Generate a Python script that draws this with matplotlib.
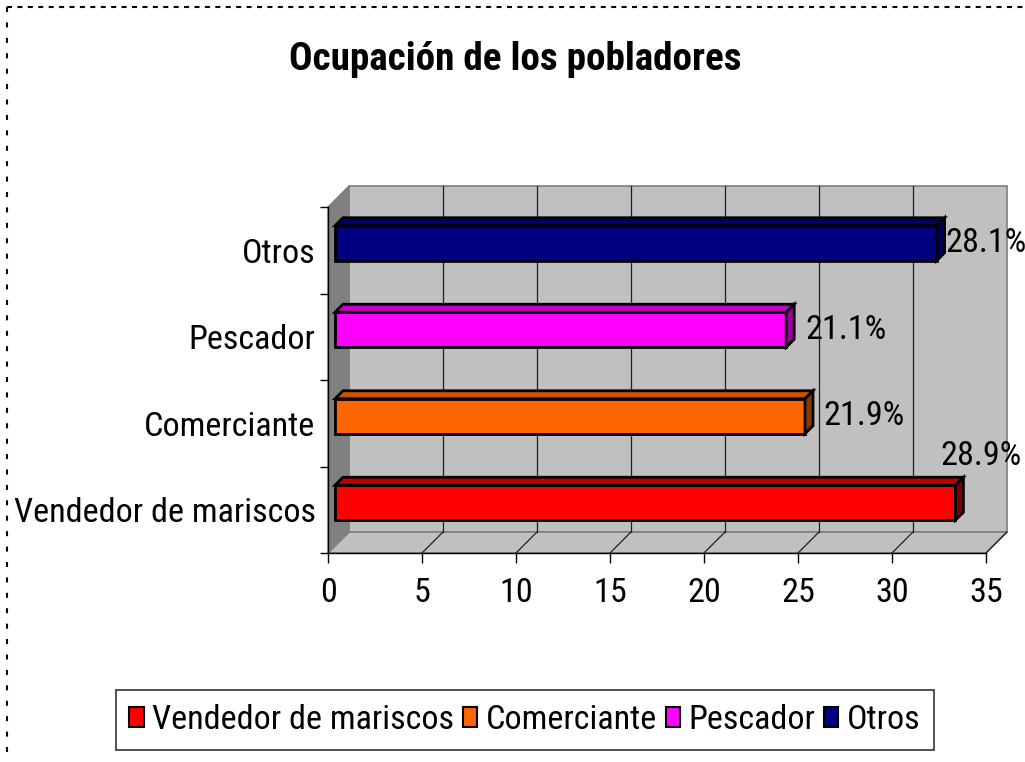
import matplotlib
matplotlib.use("Agg")
import matplotlib.pyplot as plt
from matplotlib.patches import Polygon
from matplotlib.lines import Line2D
from matplotlib import font_manager as fm

# ---- data ----
categories = ["Vendedor de mariscos", "Comerciante", "Pescador", "Otros"]
counts = [33, 25, 24, 32]
percent_labels = ["28.9%", "21.9%", "21.1%", "28.1%"]
front_colors = ["#ff0000", "#ff6600", "#ff00ff", "#000080"]
top_colors = ["#c00000", "#cc5200", "#cc00cc", "#000066"]
side_colors = ["#800000", "#8a3a00", "#990099", "#00004d"]
xticks = [0, 5, 10, 15, 20, 25, 30, 35]
title = "Ocupación de los pobladores"

# ---- pick the narrowest suitable installed font ----
def pick_font():
    prefs = ["liberation sans narrow", "arial narrow", "roboto condensed",
             "open sans condensed", "dejavu sans condensed", "noto sans condensed"]
    found = []
    for f in fm.fontManager.ttflist:
        n = f.name.lower()
        fn = f.fname.lower()
        st = str(f.stretch).lower()
        if "mono" in n or "serif" in n and "sans" not in n:
            continue
        is_narrow = ("narrow" in n or "condensed" in n or "narrow" in fn or
                     "condensed" in fn or st in ("condensed", "semi-condensed",
                                                 "extra-condensed", "ultra-condensed")
                     or st.isdigit() and int(st) < 500)
        if is_narrow:
            found.append(f)
    best = None
    best_rank = 99
    for f in found:
        key = (f.name + " " + f.fname).lower()
        rank = 50
        for i, p in enumerate(prefs):
            if p in key or p.replace(" ", "") in key.replace(" ", "").replace("-", "").replace("_", ""):
                rank = i
                break
        if "sans" in key and rank == 50:
            rank = 40
        if rank < best_rank:
            best_rank, best = rank, f
    if best is not None:
        return best.name, best.stretch
    return "Liberation Sans", "normal"

FAM, STRETCH = pick_font()
plt.rcParams["font.family"] = [FAM, "DejaVu Sans"]

def fp(size, bold=False):
    return fm.FontProperties(family=[FAM, "DejaVu Sans"], stretch=STRETCH,
                             weight="bold" if bold else "normal", size=size)

W, H = 1025, 762
fig = plt.figure(figsize=(W / 100, H / 100), dpi=100)
fig.patch.set_facecolor("white")
renderer = fig.canvas.get_renderer()

def fit_size(text, target_px, bold=False, base=20.0, max_size=27.0):
    t = fig.text(0, 0, text, fontproperties=fp(base, bold))
    w = t.get_window_extent(renderer).width
    t.remove()
    return min(max_size, base * target_px / w)

FS = fit_size("Vendedor de mariscos", 302)
FS_T = fit_size(title, 452, bold=True, max_size=28.5)

# front plane of the axes in pixels
L, R, T, B = 328, 986, 207, 553
ax = fig.add_axes([L / W, 1 - B / H, (R - L) / W, (B - T) / H])
ax.set_xlim(0, 35)
ax.set_ylim(-0.5, 3.5)
ax.patch.set_alpha(0)

pxx = 35 / (R - L)          # data units per pixel (x)
pxy = 4 / (B - T)           # data units per pixel (y)

def off(x, y, d):
    """shift a point into depth d pixels (right and up)"""
    return (x + d * pxx, y + d * pxy)

WALL = 21
bw = [off(0, -0.5, WALL), off(35, -0.5, WALL), off(35, 3.5, WALL), off(0, 3.5, WALL)]
ax.add_patch(Polygon(bw, closed=True, facecolor="#c0c0c0", edgecolor="#808080", lw=1.2, zorder=0, clip_on=False))
fl = [(0, -0.5), (35, -0.5), off(35, -0.5, WALL), off(0, -0.5, WALL)]
ax.add_patch(Polygon(fl, closed=True, facecolor="#c0c0c0", edgecolor="#808080", lw=1.2, zorder=0, clip_on=False))
lw_ = [(0, -0.5), (0, 3.5), off(0, 3.5, WALL), off(0, -0.5, WALL)]
ax.add_patch(Polygon(lw_, closed=True, facecolor="#808080", edgecolor="#808080", lw=1.0, zorder=0, clip_on=False))

for xv in xticks[1:-1]:
    p0 = off(xv, -0.5, WALL)
    p1 = off(xv, 3.5, WALL)
    ax.add_line(Line2D([p0[0], p1[0]], [p0[1], p1[1]], color="#202020", lw=0.9, zorder=0.5, clip_on=False))
for xv in xticks[1:]:
    p1 = off(xv, -0.5, WALL)
    ax.add_line(Line2D([xv, p1[0]], [-0.5, p1[1]], color="#202020", lw=0.9, zorder=0.5, clip_on=False))

# bars
BAR_SHIFT = 7
DEPTH = 8
label_gap = [0, 10, 11, 1]
bar_h = 35 * pxy
y_pos = list(range(len(categories)))
lefts = [BAR_SHIFT * pxx] * len(categories)
ycent = [y + BAR_SHIFT * pxy for y in y_pos]
bars = ax.barh(ycent, counts, left=lefts, height=bar_h, color=front_colors,
               edgecolor="black", linewidth=2, zorder=3, clip_on=False)
for i, b in enumerate(bars):
    x0, y0 = b.get_x(), b.get_y()
    x1, y1 = x0 + b.get_width(), y0 + b.get_height()
    top = [(x0, y1), (x1, y1), off(x1, y1, DEPTH), off(x0, y1, DEPTH)]
    side = [(x1, y0), (x1, y1), off(x1, y1, DEPTH), off(x1, y0, DEPTH)]
    ax.add_patch(Polygon(top, closed=True, facecolor=top_colors[i], edgecolor="black", lw=2, zorder=3, clip_on=False, joinstyle="miter"))
    ax.add_patch(Polygon(side, closed=True, facecolor=side_colors[i], edgecolor="black", lw=2, zorder=3, clip_on=False, joinstyle="miter"))
    if i == 0:
        lx = x1 - 15 * pxx
        ly = (y0 + y1) / 2 + 47 * pxy
    else:
        lx = x1 + (DEPTH + label_gap[i]) * pxx
        ly = (y0 + y1) / 2
    ax.text(lx, ly, percent_labels[i], ha="left", va="center",
            fontproperties=fp(FS), color="black", zorder=5, clip_on=False)

for s in ["top", "right"]:
    ax.spines[s].set_visible(False)
for s in ["left", "bottom"]:
    ax.spines[s].set_color("black")
    ax.spines[s].set_linewidth(1.0)
    ax.spines[s].set_zorder(4)

ax.set_xticks(xticks)
ax.set_xticklabels([str(v) for v in xticks], fontproperties=fp(FS))
ax.tick_params(axis="x", direction="out", length=7, width=1, pad=10)

ax.set_yticks([-0.5, 0.5, 1.5, 2.5, 3.5])
ax.set_yticklabels([])
ax.tick_params(axis="y", which="major", direction="out", length=6, width=1)
ax.set_yticks(y_pos, minor=True)
ax.set_yticklabels(categories, minor=True, fontproperties=fp(FS))
ax.tick_params(axis="y", which="minor", length=0, pad=9)

fig.text(515 / W, 1 - 60 / H, title, ha="center", va="center",
         fontproperties=fp(FS_T, bold=True))

leg = fig.legend(handles=list(bars), labels=categories, loc="center",
                 bbox_to_anchor=(525 / W, 1 - 720 / H), ncol=4,
                 frameon=True, fancybox=False, edgecolor="black",
                 handlelength=0.42, handleheight=0.5, handletextpad=0.25,
                 columnspacing=0.25, borderpad=0.4, borderaxespad=0.0,
                 prop=fp(FS))
leg.get_frame().set_linewidth(1.2)
for h in leg.legend_handles:
    h.set_linewidth(1.5)

fig.add_artist(Line2D([7 / W, 1.0], [1 - 7 / H, 1 - 7 / H], transform=fig.transFigure,
                      color="black", lw=1.5, linestyle=(0, (2.4, 2.6))))
fig.add_artist(Line2D([7 / W, 7 / W], [1 - 7 / H, 0.0], transform=fig.transFigure,
                      color="black", lw=1.5, linestyle=(0, (2.4, 5.0))))

fig.savefig("out.png", dpi=100, facecolor="white")
